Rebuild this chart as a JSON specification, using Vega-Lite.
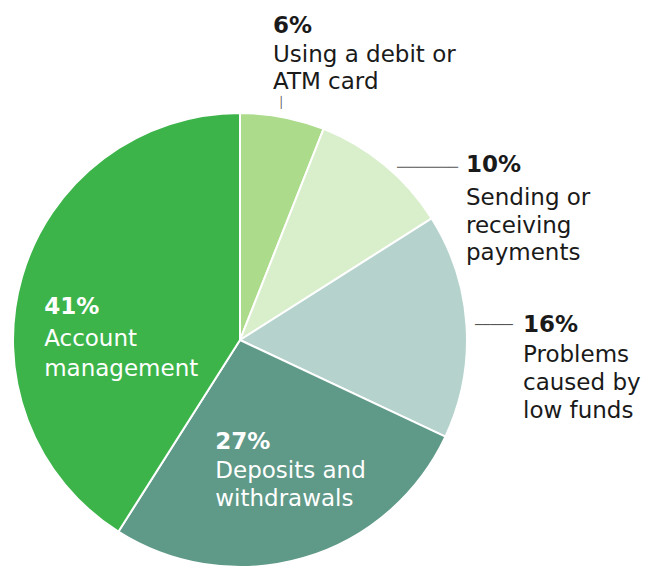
{
  "$schema": "https://vega.github.io/schema/vega-lite/v6.json",
  "width": 454,
  "height": 454,
  "autosize": {"type": "none"},
  "padding": {"left": 13, "top": 113, "right": 179, "bottom": 0},
  "background": "white",
  "config": {"view": {"stroke": null}, "text": {"font": "DejaVu Sans"}},
  "data": {
    "values": [
      {"category": "Using a debit or ATM card", "value": 6, "pct": "6%", "desc": "Using a debit or\nATM card"},
      {"category": "Sending or receiving payments", "value": 10, "pct": "10%", "desc": "Sending or\nreceiving\npayments"},
      {"category": "Problems caused by low funds", "value": 16, "pct": "16%", "desc": "Problems\ncaused by\nlow funds"},
      {"category": "Deposits and withdrawals", "value": 27, "pct": "27%", "desc": "Deposits and\nwithdrawals"},
      {"category": "Account management", "value": 41, "pct": "41%", "desc": "Account\nmanagement"}
    ]
  },
  "encoding": {
    "theta": {"field": "value", "type": "quantitative", "stack": true},
    "order": {"field": "value", "type": "quantitative", "sort": "ascending"},
    "detail": {"field": "category", "type": "nominal"}
  },
  "layer": [
    {
      "mark": {"type": "arc", "radius": 227, "stroke": "white", "strokeWidth": 2},
      "encoding": {
        "color": {
          "field": "category",
          "type": "nominal",
          "scale": {
            "domain": ["Using a debit or ATM card", "Sending or receiving payments", "Problems caused by low funds", "Deposits and withdrawals", "Account management"],
            "range": ["#acdb8b", "#d9eecb", "#b5d3cc", "#5f9988", "#3cb44a"]
          },
          "legend": null
        }
      }
    },
    {
      "mark": {"type": "text", "radius": 240, "align": "left", "baseline": "alphabetic", "dx": -12, "dy": -71, "fontSize": 23, "fontWeight": "bold", "color": "#1a1a1a"},
      "encoding": {"text": {"condition": {"test": "datum.pct === '6%'", "field": "pct"}, "value": ""}}
    },
    {
      "mark": {"type": "text", "radius": 240, "align": "left", "baseline": "alphabetic", "dx": -12, "dy": -42, "fontSize": 23, "lineBreak": "\n", "lineHeight": 27, "color": "#1a1a1a"},
      "encoding": {"text": {"condition": {"test": "datum.pct === '6%'", "field": "desc"}, "value": ""}}
    },
    {
      "mark": {"type": "text", "radius": 240, "align": "center", "baseline": "middle", "dx": -4, "dy": -1, "fontSize": 11, "color": "#555555"},
      "encoding": {"text": {"condition": {"test": "datum.pct === '6%'", "value": "│"}, "value": ""}}
    },
    {
      "mark": {"type": "text", "radius": 240, "align": "left", "baseline": "alphabetic", "dx": 73, "dy": 17, "fontSize": 23, "fontWeight": "bold", "color": "#1a1a1a"},
      "encoding": {"text": {"condition": {"test": "datum.pct === '10%'", "field": "pct"}, "value": ""}}
    },
    {
      "mark": {"type": "text", "radius": 240, "align": "left", "baseline": "alphabetic", "dx": 73, "dy": 50, "fontSize": 23, "lineBreak": "\n", "lineHeight": 27.5, "color": "#1a1a1a"},
      "encoding": {"text": {"condition": {"test": "datum.pct === '10%'", "field": "desc"}, "value": ""}}
    },
    {
      "mark": {"type": "text", "radius": 240, "align": "left", "baseline": "middle", "dx": 4, "dy": 13, "fontSize": 14.5, "color": "#555555"},
      "encoding": {"text": {"condition": {"test": "datum.pct === '10%'", "value": "───────"}, "value": ""}}
    },
    {
      "mark": {"type": "text", "radius": 240, "align": "left", "baseline": "alphabetic", "dx": 43.5, "dy": 7, "fontSize": 23, "fontWeight": "bold", "color": "#1a1a1a"},
      "encoding": {"text": {"condition": {"test": "datum.pct === '16%'", "field": "pct"}, "value": ""}}
    },
    {
      "mark": {"type": "text", "radius": 240, "align": "left", "baseline": "alphabetic", "dx": 43.5, "dy": 37, "fontSize": 23, "lineBreak": "\n", "lineHeight": 28, "color": "#1a1a1a"},
      "encoding": {"text": {"condition": {"test": "datum.pct === '16%'", "field": "desc"}, "value": ""}}
    },
    {
      "mark": {"type": "text", "radius": 240, "align": "left", "baseline": "middle", "dx": -4.5, "dy": 0, "fontSize": 12.6, "color": "#555555"},
      "encoding": {"text": {"condition": {"test": "datum.pct === '16%'", "value": "─────"}, "value": ""}}
    },
    {
      "mark": {"type": "text", "radius": 130, "align": "left", "baseline": "alphabetic", "dx": -61, "dy": -16, "fontSize": 23, "fontWeight": "bold", "color": "white"},
      "encoding": {"text": {"condition": {"test": "datum.pct === '27%'", "field": "pct"}, "value": ""}}
    },
    {
      "mark": {"type": "text", "radius": 130, "align": "left", "baseline": "alphabetic", "dx": -61, "dy": 13.5, "fontSize": 23, "lineBreak": "\n", "lineHeight": 28, "color": "white"},
      "encoding": {"text": {"condition": {"test": "datum.pct === '27%'", "field": "desc"}, "value": ""}}
    },
    {
      "mark": {"type": "text", "radius": 130, "align": "left", "baseline": "alphabetic", "dx": -71, "dy": 10, "fontSize": 23, "fontWeight": "bold", "color": "white"},
      "encoding": {"text": {"condition": {"test": "datum.pct === '41%'", "field": "pct"}, "value": ""}}
    },
    {
      "mark": {"type": "text", "radius": 130, "align": "left", "baseline": "alphabetic", "dx": -71, "dy": 42, "fontSize": 23, "lineBreak": "\n", "lineHeight": 30.5, "color": "white"},
      "encoding": {"text": {"condition": {"test": "datum.pct === '41%'", "field": "desc"}, "value": ""}}
    }
  ]
}
